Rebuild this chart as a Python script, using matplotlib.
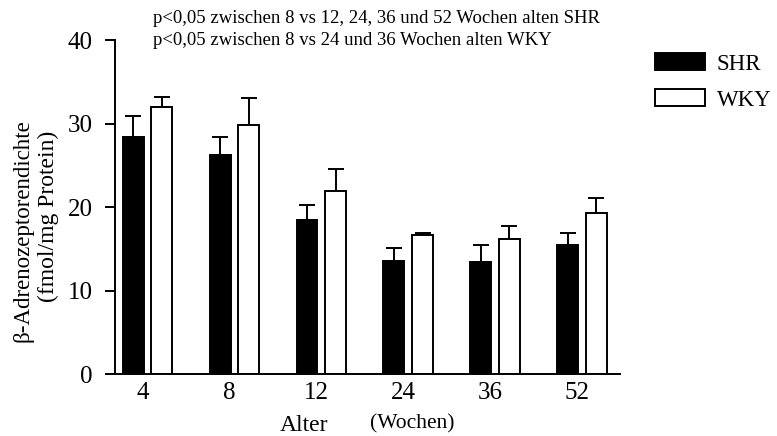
import numpy as np
import matplotlib.pyplot as plt

plt.rcParams['font.family'] = ['Liberation Serif', 'DejaVu Serif']

# data
ages = ['4', '8', '12', '24', '36', '52']
shr_mean = [28.4, 26.2, 18.5, 13.5, 13.4, 15.4]
shr_err = [2.5, 2.2, 1.8, 1.6, 2.0, 1.5]
wky_mean = [32.0, 29.8, 21.9, 16.7, 16.2, 19.3]
wky_err = [1.2, 3.2, 2.6, 0.2, 1.5, 1.8]

x = np.arange(len(ages))
width = 0.24
off = 0.165

fig = plt.figure(figsize=(7.77, 4.36), dpi=100)
ax = fig.add_axes([0.148, 0.1422, 0.65, 0.766])

lw = 1.4
ax.bar(x - off, shr_mean, width, color='black', edgecolor='black',
       linewidth=lw, label='SHR', zorder=2)
ax.bar(x + off, wky_mean, width, color='white', edgecolor='black',
       linewidth=lw, label='WKY', zorder=2)
ax.errorbar(x - off, shr_mean, yerr=[np.zeros(len(x)), shr_err], fmt='none',
            ecolor='black', elinewidth=lw, capsize=6, capthick=lw, zorder=1)
ax.errorbar(x + off, wky_mean, yerr=[np.zeros(len(x)), wky_err], fmt='none',
            ecolor='black', elinewidth=lw, capsize=6, capthick=lw, zorder=1)

ax.set_xlim(-0.374, 5.437)
ax.set_ylim(0, 40)
ax.set_yticks([0, 10, 20, 30, 40])
ax.set_xticks(x - 0.06)
ax.set_xticklabels(ages)

ax.spines['top'].set_visible(False)
ax.spines['right'].set_visible(False)
ax.spines['left'].set_linewidth(lw)
ax.spines['bottom'].set_linewidth(lw)
ax.tick_params(axis='y', length=7.2, width=lw, labelsize=18, pad=9)
ax.tick_params(axis='x', length=0, labelsize=18, pad=6)

fig.text(0.391, 0.025, 'Alter', fontsize=17, ha='center', va='center')
fig.text(0.530, 0.027, '(Wochen)', fontsize=15.5, ha='center', va='center')

fig.text(0.030, 0.471, 'β-Adrenozeptorendichte', fontsize=16.5, rotation=90,
         ha='center', va='center')
fig.text(0.062, 0.504, '(fmol/mg Protein)', fontsize=17, rotation=90,
         ha='center', va='center')

fig.text(0.197, 0.957, 'p<0,05 zwischen 8 vs 12, 24, 36 und 52 Wochen alten SHR',
         fontsize=13.5, ha='left', va='center')
fig.text(0.197, 0.906, 'p<0,05 zwischen 8 vs 24 und 36 Wochen alten WKY',
         fontsize=13.5, ha='left', va='center')

ax.legend(frameon=False, fontsize=16.5, loc='upper left',
          bbox_to_anchor=(0.843, 0.878), bbox_transform=fig.transFigure,
          handlelength=2.2, handleheight=0.78, handletextpad=0.5,
          labelspacing=0.62, borderaxespad=0, borderpad=0)

fig.savefig('out.png', dpi=100)
